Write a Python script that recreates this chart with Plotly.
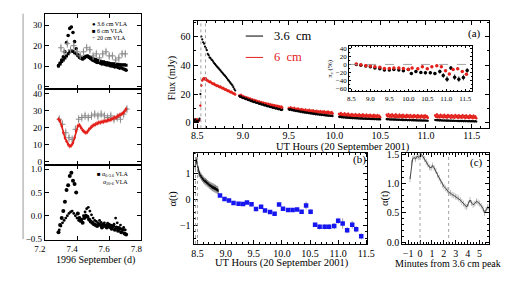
import numpy as np
import plotly.graph_objects as go

W, H = 528, 281
SERIF = "Liberation Serif"
RED = "#e3201b"
BLUE = "#1616f0"
GREY = "#8a8a8a"

# ---------------- Left column: 1996 September VLA ----------------
VLA_T = [7.285, 7.705]
F36 = [10.2, 11.5, 13.0, 14.5, 17.0, 21.5, 25.0, 28.5, 29.2, 26.5, 22.0, 18.5, 15.5, 14.2, 13.8,
       13.5, 14.0, 14.6, 14.8, 14.2, 13.6, 13.0, 12.6, 12.2, 11.8, 11.9, 11.4, 11.0, 11.2, 10.8,
       10.5, 10.6, 10.2, 10.0, 9.9, 9.6, 9.8, 9.3, 9.0, 9.2, 8.7, 8.4, 8.0]
F6 = [10.0, 11.0, 12.2, 13.0, 14.0, 15.0, 16.0, 17.0, 17.5, 17.2, 16.5, 16.0, 15.2, 14.8, 14.0,
      13.6, 14.2, 14.8, 15.0, 14.6, 14.2, 13.8, 13.5, 13.2, 12.8, 12.6, 12.4, 12.0, 12.1, 11.8,
      11.6, 11.5, 11.3, 11.2, 11.0, 11.1, 10.8, 10.9, 10.6, 10.7, 10.5, 10.6, 10.4]
F20_T = [7.30, 7.32, 7.34, 7.36, 7.38, 7.40, 7.42, 7.44, 7.46, 7.48, 7.50, 7.52, 7.54, 7.56,
         7.58, 7.60, 7.62, 7.64, 7.66, 7.68, 7.70]
F20 = [19, 17, 21, 18, 20, 17, 15, 17, 19, 18, 15, 16, 14, 16, 17, 15, 15, 13, 14, 16, 16]
F20_ERR = 2.0

POL6 = [25, 24, 21, 17, 14, 12, 10, 9, 9.5, 11, 14, 18, 21, 21.5, 20, 18.5, 17.5, 17, 17.5, 19,
        20, 21, 21.5, 22, 22.5, 23, 23, 23.5, 23.5, 24, 24, 24.5, 24.5, 25, 25.5, 26, 26, 27,
        27.5, 28, 28.5, 29.5, 31]
POL20_T = [7.29, 7.31, 7.33, 7.35, 7.37, 7.39, 7.41, 7.43, 7.45, 7.47, 7.49, 7.51, 7.53, 7.55,
           7.57, 7.59, 7.61, 7.63, 7.65, 7.67, 7.69, 7.71]
POL20 = [25, 22, 17, 14, 13, 19, 25, 26, 27, 26, 27, 28, 27, 28, 27, 26, 27, 25, 26, 25, 28, 31]

ALPHA_636 = [-0.35, -0.2, -0.05, 0.1, 0.3, 0.55, 0.65, 0.85, 0.92, 0.75, 0.68, 0.5, 0.05, -0.05,
             -0.1, -0.15, -0.05, 0.0, -0.02, -0.08, -0.12, -0.15, -0.18, -0.2, -0.22, -0.18, -0.2,
             -0.25, -0.2, -0.22, -0.25, -0.2, -0.24, -0.28, -0.22, -0.3, -0.25, -0.32, -0.28,
             -0.35, -0.3, -0.38, -0.4]
A206_T = [7.29, 7.70]
ALPHA_206 = [-0.3, -0.22, -0.15, -0.1, -0.05, 0.0, 0.05, 0.08, 0.1, 0.05, 0.0, -0.05, -0.1, -0.12,
             -0.08, 0.0, 0.08, 0.15, 0.18, 0.1, 0.02, -0.05, -0.1, -0.12, -0.15, -0.1, -0.14,
             -0.18, -0.15, -0.2, -0.16, -0.18, -0.2, -0.22, -0.18, -0.05, -0.15, -0.25, -0.2,
             -0.28, -0.25, -0.3]

# ---------------- Panel (a): 20 September 2001 light curves ----------------
SEG_START = [8.46, 8.535, 8.96, 9.50, 10.05, 10.57, 11.10]
SEG_END = [8.525, 8.915, 9.43, 9.98, 10.50, 11.02, 11.55]
F36_SEGS = [
    [2.0, 1.2, 2.5, 0.8, 1.5, 0.5, 1.8, 3.0],
    [20, 60, 58, 56, 55, 53, 52, 50.5, 48, 47, 45.5, 45, 44, 43.5, 42.5, 41.5, 40.8, 40, 39.2,
     38.5, 37.8, 37, 36.3, 35.5, 34.8, 34, 33.2, 32.6, 31.8, 31, 30, 29.3, 28.5, 27.6, 26.8,
     26, 24.8, 23.5, 22.5],
    [18.6, 18.0, 18.4, 17.5, 17.2, 17.6, 16.8, 16.5, 16.9, 16.0, 15.8, 16.1, 15.3, 15.0, 15.4,
     14.6, 14.4, 14.7, 14.0, 13.8, 14.1, 13.4, 13.2, 13.5, 12.8, 12.6, 12.9, 12.2, 12.0, 12.3,
     11.6, 11.5, 11.7, 11.1, 10.9, 11.2, 10.6, 10.4, 10.7, 10.1, 9.9, 10.2, 9.6, 9.4, 9.7, 9.1,
     8.9, 9.2],
    [9.4, 9.0, 9.6, 8.8, 9.1, 8.5, 8.9, 8.2, 8.6, 8.0, 8.3, 7.8, 8.1, 7.5, 7.9, 7.3, 7.6, 7.1,
     7.4, 6.9, 7.2, 6.7, 7.0, 6.5, 6.8, 6.3, 6.6, 6.1, 6.4, 5.9, 6.2, 5.8, 6.0, 5.6, 5.9, 5.4,
     5.7, 5.3, 5.5, 5.1, 5.4, 5.0, 5.2, 4.9, 5.1, 4.8, 5.0, 4.7],
    [4.2, 3.9, 4.3, 3.8, 4.0, 3.7, 3.9, 3.6, 3.8, 3.5, 3.7, 3.4, 3.6, 3.3, 3.5, 3.2, 3.4, 3.2,
     3.3, 3.1, 3.3, 3.0, 3.2, 2.9, 3.1, 2.9, 3.0, 2.8, 3.0, 2.8, 2.9, 2.7, 2.9, 2.7, 2.8, 2.6,
     2.8, 2.6, 2.7, 2.5, 2.7, 2.5, 2.6, 2.4, 2.6, 2.4],
    [2.6, 2.4, 2.7, 2.3, 2.5, 2.2, 2.5, 2.2, 2.4, 2.1, 2.4, 2.1, 2.3, 2.0, 2.3, 2.0, 2.2, 1.9,
     2.2, 1.9, 2.1, 1.9, 2.1, 1.8, 2.0, 1.8, 2.0, 1.8, 1.9, 1.7, 1.9, 1.7, 1.9, 1.6, 1.8, 1.6,
     1.8, 1.6, 1.7, 1.5, 1.7, 1.5, 1.7, 1.5, 1.6, 1.4],
    [2.0, 1.8, 2.1, 1.7, 1.9, 1.6, 1.9, 1.6, 1.8, 1.5, 1.8, 1.5, 1.7, 1.4, 1.7, 1.4, 1.6, 1.4,
     1.6, 1.3, 1.6, 1.3, 1.5, 1.3, 1.5, 1.2, 1.5, 1.2, 1.4, 1.2, 1.4, 1.1, 1.4, 1.1, 1.3, 1.1,
     1.3, 1.0, 1.3, 1.0, 1.2, 1.0, 1.2, 0.9, 1.2, 0.9],
]
F6_SEGS = [
    [1.5, 2.2, 0.8, 1.6, 2.5, 1.0, 1.4, 2.0],
    [12, 26, 29.5, 30.5, 31, 30.2, 30.8, 29.6, 29.5, 28.8, 28.4, 28.6, 27.8, 27.4, 27, 27.2,
     26.4, 26.2, 25.7, 25.9, 25.2, 24.9, 25.1, 24.4, 24, 24.2, 23.5, 23.1, 23.3, 22.6, 22.2,
     22.4, 21.7, 21.3, 21.5, 20.8, 20.5, 20.2, 19.8],
    [19.0, 18.2, 19.4, 17.8, 18.6, 17.4, 18.0, 16.9, 17.6, 16.5, 17.2, 16.0, 16.8, 15.7, 16.3,
     15.2, 15.9, 14.9, 15.5, 14.5, 15.1, 14.2, 14.8, 13.8, 14.4, 13.5, 14.0, 13.1, 13.7, 12.9,
     13.4, 12.5, 13.1, 12.2, 12.8, 11.9, 12.5, 11.6, 12.2, 11.4, 11.9, 11.1, 11.7, 10.9, 11.4,
     10.6, 11.2, 10.5],
    [10.2, 9.6, 10.8, 9.4, 10.1, 9.2, 10.4, 9.0, 9.7, 8.8, 9.9, 8.6, 9.3, 8.5, 9.5, 8.3, 9.0,
     8.2, 9.2, 8.0, 8.7, 7.9, 8.9, 7.7, 8.4, 7.6, 8.6, 7.5, 8.1, 7.4, 8.3, 7.3, 7.9, 7.2, 8.1,
     7.1, 7.7, 7.0, 7.9, 6.9, 7.5, 6.8, 7.7, 6.7, 7.3, 6.6, 7.4, 6.5],
    [6.2, 5.4, 6.8, 5.1, 6.0, 4.9, 6.5, 5.3, 5.8, 4.7, 6.3, 5.0, 5.6, 4.6, 6.1, 4.9, 5.5, 4.5,
     6.0, 4.8, 5.4, 4.4, 5.9, 4.7, 5.3, 4.3, 5.8, 4.6, 5.2, 4.3, 5.7, 4.5, 5.1, 4.2, 5.6, 4.4,
     5.0, 4.1, 5.5, 4.3, 5.0, 4.1, 5.4, 4.2, 4.9, 4.0],
    [5.6, 4.6, 6.1, 4.4, 5.4, 4.2, 5.9, 4.5, 5.2, 4.1, 5.8, 4.3, 5.0, 4.0, 5.7, 4.4, 5.1, 3.9,
     5.6, 4.2, 4.9, 3.9, 5.5, 4.3, 5.0, 3.8, 5.4, 4.1, 4.8, 3.8, 5.3, 4.2, 4.9, 3.7, 5.3, 4.0,
     4.7, 3.7, 5.2, 4.1, 4.8, 3.6, 5.1, 4.0, 4.6, 3.6],
    [5.2, 4.2, 5.8, 4.0, 5.0, 3.9, 5.6, 4.3, 4.9, 3.8, 5.5, 4.1, 4.8, 3.7, 5.4, 4.2, 4.9, 3.6,
     5.3, 4.0, 4.7, 3.6, 5.4, 4.1, 4.8, 3.5, 5.2, 3.9, 4.6, 3.5, 5.3, 4.0, 4.7, 3.4, 5.1, 3.8,
     4.5, 3.4, 5.2, 3.9, 4.6, 3.3, 5.0, 3.7, 4.4, 3.3],
]
F6_ERR = 1.0
FLARE_LINES_A = [8.54, 8.59]

# inset: circular polarisation
PI36_T = [8.63, 8.75, 8.88, 9.0, 9.12, 9.25, 9.37, 9.5, 9.62, 9.75, 9.87, 10.0, 10.08, 10.2,
          10.33, 10.45, 10.58, 10.7, 10.83, 10.92, 11.02, 11.12, 11.22, 11.33, 11.45, 11.55]
PI36 = [0, -2, -4, -6, -9, -11, -14, -14, -13, -14, -16, -13, -23, -18, -20, -21, -21, -23,
        -18, -28, -37, -9, -32, -37, -33, -15]
PI36_ERR = [2, 2, 2, 2, 2, 2, 3, 3, 3, 3, 3, 3, 4, 4, 4, 4, 4, 4, 5, 6, 7, 5, 7, 7, 7, 6]
PI6_T = [8.63, 8.75, 8.88, 9.0, 9.12, 9.25, 9.37, 9.5, 9.62, 9.75, 9.87, 10.0, 10.1, 10.25,
         10.37, 10.5, 10.62, 10.75, 10.87, 10.98, 11.08, 11.18, 11.3, 11.42, 11.53]
PI6 = [1, -1, -3, -4, -6, -7, -10, -10, -9, -9, -10, -12, -9, -11, -6, -11, -6, -3, -6, -16,
       -24, -13, -11, -18, -25]
PI6_ERR = 3

# ---------------- Panel (b): spectral index vs UT ----------------
AB_T = [8.46, 8.87]
AB_BLACK = [1.25, 1.45, 1.52, 1.40, 1.30, 1.15, 1.05, 0.95, 0.98, 0.88, 0.92, 0.82, 0.85, 0.76,
            0.80, 0.70, 0.74, 0.66, 0.72, 0.62, 0.68, 0.58, 0.64, 0.55, 0.60, 0.50, 0.57, 0.47,
            0.55, 0.44, 0.52, 0.40, 0.50, 0.38, 0.47, 0.35, 0.45, 0.33, 0.42, 0.30, 0.40, 0.28]
AB_BLUE_T = [8.90, 8.98, 9.06, 9.14, 9.23, 9.31, 9.38, 9.46, 9.54, 9.63, 9.70, 9.79, 9.87, 9.95,
             10.02, 10.11, 10.19, 10.27, 10.35, 10.43, 10.51, 10.59, 10.67, 10.76, 10.84, 10.93,
             11.00, 11.08, 11.16, 11.25, 11.32, 11.41]
AB_BLUE = [0.14, 0.0, -0.05, -0.15, -0.18, -0.19, -0.13, -0.2, -0.38, -0.3, -0.44, -0.5, -0.57,
           -0.21, -0.37, -0.42, -0.42, -0.4, -0.49, -0.25, -0.49, -0.99, -1.07, -1.07, -1.07,
           -1.04, -0.84, -0.94, -1.2, -0.99, -1.16, -1.43]
AB_BLUE_ERR = [0.05, 0.05, 0.05, 0.05, 0.05, 0.05, 0.06, 0.08, 0.06, 0.06, 0.06, 0.06, 0.06,
               0.08, 0.06, 0.06, 0.06, 0.06, 0.07, 0.15, 0.1, 0.08, 0.1, 0.1, 0.1, 0.12, 0.12,
               0.2, 0.12, 0.15, 0.12, 0.12]
FLARE_LINES_B = [8.465, 8.50]

# ---------------- Panel (c): spectral index vs minutes from peak ----------------
AC_MIN = [-0.84, -0.72, -0.63, -0.5, -0.38, -0.25, -0.12, 0.0, 0.11, 0.25, 0.38, 0.52, 0.65, 0.79,
          0.93, 1.05, 1.18, 1.33, 1.47, 1.6, 1.74, 1.88, 2.01, 2.15, 2.29, 2.42, 2.56, 2.69,
          2.83, 2.97, 3.1, 3.24, 3.38, 3.51, 3.65, 3.78, 3.92, 4.05, 4.19, 4.33, 4.46, 4.6,
          4.74, 4.87, 5.0, 5.14, 5.28, 5.41, 5.55, 5.68, 5.8]
AC_ALPHA = [1.08, 1.35, 1.42, 1.45, 1.42, 1.47, 1.45, 1.48, 1.5, 1.46, 1.42, 1.37, 1.33, 1.28,
            1.27, 1.31, 1.27, 1.22, 1.15, 1.1, 1.04, 0.98, 0.95, 0.92, 0.89, 0.85, 0.84, 0.81,
            0.8, 0.78, 0.77, 0.75, 0.72, 0.69, 0.66, 0.62, 0.6, 0.66, 0.72, 0.67, 0.64, 0.66,
            0.7, 0.68, 0.66, 0.62, 0.58, 0.5, 0.55, 0.6, 0.58]
AC_ERR = 0.05
PEAK_LINES_C = [0.0, 2.4]

# =====================================================================
fig = go.Figure()


def xpf(x):
    return x / W


def ypf(y):
    return 1 - y / H


def add(tr, n):
    tr.update(xaxis="x" if n == 1 else f"x{n}", yaxis="y" if n == 1 else f"y{n}")
    fig.add_trace(tr)


# left top
tv = np.linspace(VLA_T[0], VLA_T[1], len(F36))
add(go.Scatter(x=tv, y=F36, mode="markers", marker=dict(symbol="circle", size=3.6, color="black")), 1)
add(go.Scatter(x=tv, y=F6, mode="markers", marker=dict(symbol="square", size=3, color="black")), 1)
add(go.Scatter(x=F20_T, y=F20, mode="markers",
               marker=dict(symbol="cross-thin", size=4, line=dict(width=1, color=GREY)),
               error_y=dict(type="constant", value=F20_ERR, color=GREY, thickness=0.7, width=0)), 1)
# left middle
add(go.Scatter(x=POL20_T, y=POL20, mode="markers",
               marker=dict(symbol="cross-thin", size=4, line=dict(width=1, color=GREY)),
               error_y=dict(type="constant", value=2.5, color=GREY, thickness=0.7, width=0)), 2)
add(go.Scatter(x=np.linspace(VLA_T[0], VLA_T[1], len(POL6)), y=POL6, mode="lines+markers",
               line=dict(color=RED, width=1.6), marker=dict(size=2.5, color=RED),
               error_y=dict(type="constant", value=1.3, color=RED, thickness=0.8, width=0)), 2)
# left bottom
add(go.Scatter(x=np.linspace(A206_T[0], A206_T[1], len(ALPHA_206)), y=ALPHA_206, mode="markers",
               marker=dict(size=2.8, color="black")), 3)
add(go.Scatter(x=tv, y=ALPHA_636, mode="markers", marker=dict(size=4, color="black")), 3)

# panel (a)
for s0, s1, fb, fr in zip(SEG_START, SEG_END, F36_SEGS, F6_SEGS):
    add(go.Scatter(x=np.linspace(s0, s1, len(fr)), y=fr, mode="markers",
                   marker=dict(size=2.4, color=RED),
                   error_y=dict(type="constant", value=F6_ERR, color=RED, thickness=0.6, width=0)), 4)
    add(go.Scatter(x=np.linspace(s0, s1, len(fb)), y=fb, mode="markers",
                   marker=dict(size=2.2, color="black")), 4)
# inset
add(go.Scatter(x=PI36_T, y=PI36, mode="markers", marker=dict(size=3.5, color="black"),
               error_y=dict(type="data", array=PI36_ERR, color="black", thickness=0.8, width=0)), 5)
add(go.Scatter(x=PI6_T, y=PI6, mode="markers", marker=dict(size=3.5, color=RED),
               error_y=dict(type="constant", value=PI6_ERR, color=RED, thickness=0.8, width=0)), 5)
# panel (b)
add(go.Scatter(x=np.linspace(AB_T[0], AB_T[1], len(AB_BLACK)), y=AB_BLACK, mode="lines",
               line=dict(color="black", width=0.9),
               error_y=dict(type="constant", value=0.1, color="black", thickness=0.5, width=0)), 6)
add(go.Scatter(x=AB_BLUE_T, y=AB_BLUE, mode="markers",
               marker=dict(symbol="square", size=4.5, color=BLUE),
               error_y=dict(type="data", array=AB_BLUE_ERR, color=GREY, thickness=0.8, width=0)), 6)
# panel (c)
add(go.Scatter(x=AC_MIN, y=AC_ALPHA, mode="lines", line=dict(color="#333333", width=0.9),
               error_y=dict(type="constant", value=AC_ERR, color=GREY, thickness=0.6, width=0)), 7)


def axis(dom, rng, tickfont=9, **kw):
    d = dict(domain=dom, range=rng, showline=True, linecolor="black", linewidth=1,
             mirror="ticks", ticks="inside", ticklen=4, tickcolor="black", tickwidth=1,
             showgrid=False, zeroline=False,
             tickfont=dict(family=SERIF, size=tickfont, color="black"))
    d.update(kw)
    return d


LX = [xpf(35), xpf(135)]
fig.update_layout(
    width=W, height=H, margin=dict(l=0, r=0, t=0, b=0),
    paper_bgcolor="white", plot_bgcolor="white", showlegend=False,
    font=dict(family=SERIF, color="black"),
    xaxis=axis(LX, [7.2, 7.8], showticklabels=False, dtick=0.2, tick0=7.2, anchor="y"),
    yaxis=axis([ypf(88), ypf(10)], [-1.5, 35.7], dtick=10, anchor="x"),
    xaxis2=axis(LX, [7.2, 7.8], showticklabels=False, dtick=0.2, tick0=7.2, anchor="y2"),
    yaxis2=axis([ypf(166), ypf(88)], [-2.3, 42.6], dtick=10, anchor="x2"),
    xaxis3=axis(LX, [7.2, 7.8], dtick=0.2, tick0=7.2, tickformat=".1f", anchor="y3",
                ticklabelshift=-5),
    yaxis3=axis([ypf(243), ypf(166)], [-0.52, 1.08], dtick=0.5, tickformat=".1f", anchor="x3"),
    xaxis4=axis([xpf(189), xpf(495)], [8.46, 11.69], tickfont=10, dtick=0.5, tick0=8.5,
                tickformat=".1f", anchor="y4", ticklabelstandoff=-2,
                minor=dict(ticks="inside", ticklen=2, dtick=0.1, tickcolor="black")),
    yaxis4=axis([ypf(128), ypf(17)], [-3.8, 71.1], tickfont=10, dtick=20, anchor="x4",
                minor=dict(ticks="inside", ticklen=2, dtick=10, tickcolor="black")),
    xaxis5=axis([xpf(350), xpf(477)], [8.44, 11.67], tickfont=7, dtick=0.5, tick0=8.5,
                tickformat=".1f", anchor="y5", ticklen=2,
                minor=dict(ticks="inside", ticklen=1, dtick=0.1, tickcolor="black")),
    yaxis5=axis([ypf(90), ypf(43)], [-68, 47], tickfont=7, dtick=20, anchor="x5", ticklen=2,
                minor=dict(ticks="inside", ticklen=1, dtick=10, tickcolor="black")),
    xaxis6=axis([xpf(189), xpf(369)], [8.43, 11.52], tickfont=10, dtick=0.5, tick0=8.5,
                tickformat=".1f", anchor="y6",
                minor=dict(ticks="inside", ticklen=2, dtick=0.1, tickcolor="black")),
    yaxis6=axis([ypf(247), ypf(153)], [-1.73, 1.79], tickfont=10, dtick=1, anchor="x6",
                minor=dict(ticks="inside", ticklen=2, dtick=0.25, tickcolor="black")),
    xaxis7=axis([xpf(405), xpf(495)], [-1.5, 5.8], tickfont=10, dtick=1, anchor="y7",
                minor=dict(ticks="inside", ticklen=2, dtick=0.25, tickcolor="black")),
    yaxis7=axis([ypf(247), ypf(153)], [-0.03, 1.53], tickfont=10, dtick=0.5, tickformat=".1f",
                anchor="x7", minor=dict(ticks="inside", ticklen=2, dtick=0.1, tickcolor="black")),
)

shapes = []
for xv in FLARE_LINES_A:
    shapes.append(dict(type="line", xref="x4", yref="y4 domain", x0=xv, x1=xv, y0=0, y1=1,
                       line=dict(color=GREY, width=0.8, dash="dot")))
for xv in FLARE_LINES_B:
    shapes.append(dict(type="line", xref="x6", yref="y6 domain", x0=xv, x1=xv, y0=0, y1=1,
                       line=dict(color=GREY, width=0.8, dash="dot")))
for xv in PEAK_LINES_C:
    shapes.append(dict(type="line", xref="x7", yref="y7 domain", x0=xv, x1=xv, y0=0, y1=1,
                       line=dict(color=GREY, width=0.8, dash="dot")))
shapes.append(dict(type="line", xref="x5 domain", yref="y5", x0=0, x1=1, y0=0, y1=0,
                   line=dict(color=GREY, width=0.8, dash="dash")))
# legend lines of panel (a)
shapes.append(dict(type="line", xref="paper", yref="paper", x0=xpf(243), x1=xpf(261),
                   y0=ypf(33), y1=ypf(33), line=dict(color="black", width=1)))
shapes.append(dict(type="line", xref="paper", yref="paper", x0=xpf(243), x1=xpf(261),
                   y0=ypf(55), y1=ypf(55), line=dict(color=RED, width=1)))
# page edge line at far left
shapes.append(dict(type="line", xref="paper", yref="paper", x0=xpf(12.5), x1=xpf(12.5),
                   y0=ypf(10), y1=ypf(242), line=dict(color="#9a9a9a", width=1)))
fig.update_layout(shapes=shapes)


def ann(text, x, y, size=10, color="black", angle=0, xanchor="center"):
    return dict(text=text, x=xpf(x), y=ypf(y), xref="paper", yref="paper", showarrow=False,
                xanchor=xanchor, yanchor="middle", textangle=angle,
                font=dict(family=SERIF, size=size, color=color))


fig.update_layout(annotations=[
    ann("1996 September (d)", 87, 263, 10),
    ann("UT Hours (20 September 2001)", 344, 147, 10.5),
    ann("UT Hours (20 September 2001)", 281, 267, 10.5),
    ann("Minutes from 3.6 cm peak", 452, 267, 10),
    ann("Flux (mJy)", 167, 76, 10, angle=-90),
    ann("α(t)", 168, 200, 10.5, angle=-90),
    ann("α(t)", 388, 200, 10.5, angle=-90),
    ann("(a)", 480, 30, 11),
    ann("(b)", 361, 160, 11),
    ann("(c)", 482, 163, 11),
    ann("3.6  cm", 270, 33, 12.5, xanchor="left"),
    ann("6  cm", 270, 55, 12.5, color=RED, xanchor="left"),
    ann("π<sub>c</sub> (%)", 330, 66, 7, angle=-90),
    ann("● 3.6 cm VLA", 82, 21, 6, xanchor="left"),
    ann("■ 6 cm VLA", 82, 28, 6, xanchor="left"),
    ann("<span style='color:#8a8a8a'>+</span> 20 cm VLA", 82, 35, 6, xanchor="left"),
    ann("■ α<sub>6-3.6</sub> VLA", 87, 175, 6, xanchor="left"),
    ann("α<sub>20-6</sub> VLA", 93, 184, 6, xanchor="left"),
])

fig.write_html("out.html", config={"displayModeBar": False},
               post_script="document.body.style.margin='0';document.body.style.overflow='hidden';")
